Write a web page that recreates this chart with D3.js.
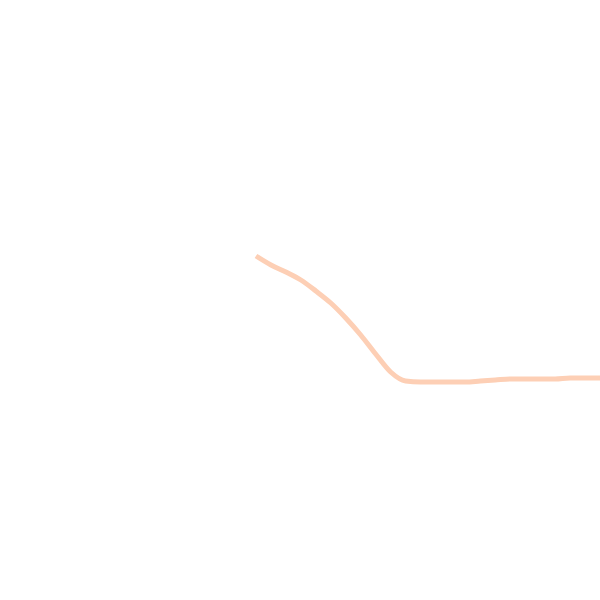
<!DOCTYPE html>
<html>
<head>
<meta charset="utf-8">
<script src="https://cdn.jsdelivr.net/npm/d3@7"></script>
<style>
  html, body { margin: 0; padding: 0; background: #fff; }
  svg { display: block; }
</style>
</head>
<body>
<svg id="chart"></svg>
<script>
// one series
const steps = [0, 1, 2, 3, 4, 5, 6, 7, 8, 9, 10, 11, 12, 13, 14, 15, 16, 17, 18, 19, 20, 21, 22, 23];
const values = [38.8, 37.0, 35.6, 34.0, 31.8, 29.4, 26.4, 23.0, 19.2, 15.6, 13.8, 13.6, 13.6, 13.6, 13.6, 13.8, 14.0, 14.2, 14.2, 14.2, 14.2, 14.4, 14.4, 14.4];

const width = 600;
const height = 600;

const svg = d3.select("#chart")
  .attr("width", width)
  .attr("height", height);

const xScale = d3.scaleLinear()
  .domain([0, d3.max(steps)])
  .range([256, 600]);

const yScale = d3.scaleLinear()
  .domain([0, 50])
  .range([450, 200]);

const line = d3.line()
  .x((d, i) => xScale(steps[i]))
  .y(d => yScale(d))
  .curve(d3.curveMonotoneX);

svg.append("path")
  .datum(values)
  .attr("d", line)
  .attr("fill", "none")
  .attr("stroke", "#fdcfb5")
  .attr("stroke-width", 5)
  .attr("stroke-linecap", "butt");
</script>
</body>
</html>
